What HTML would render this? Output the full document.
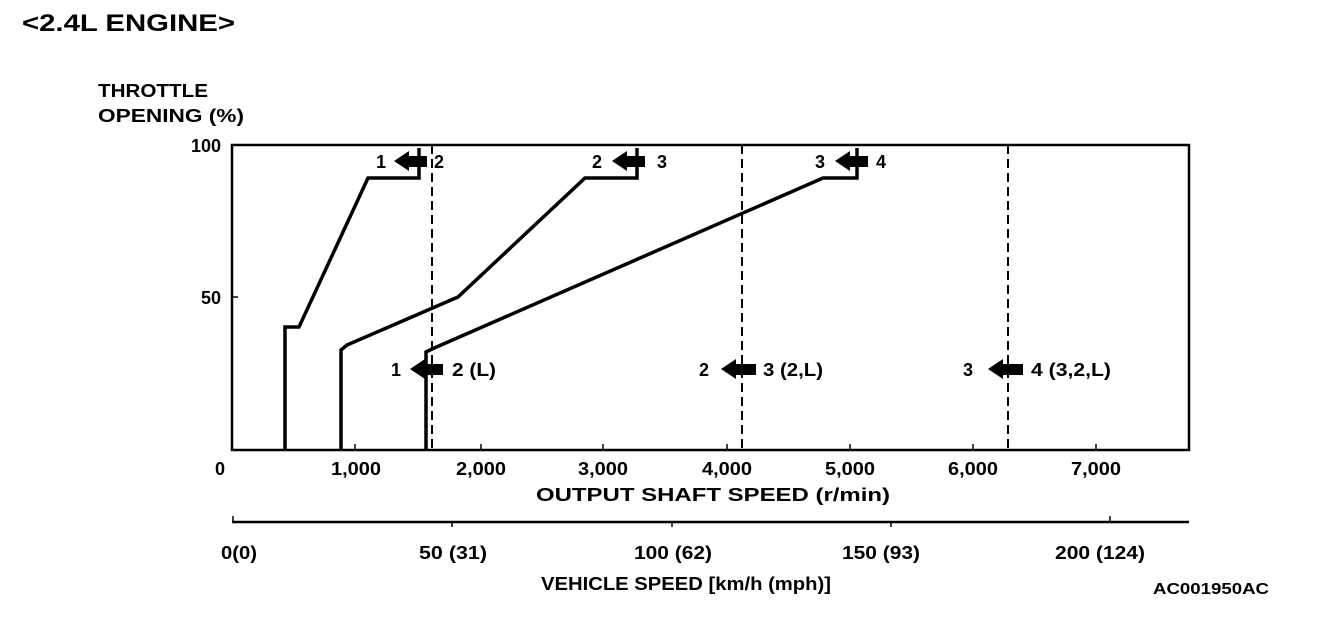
<!DOCTYPE html>
<html><head><meta charset="utf-8"><style>
html,body{margin:0;padding:0;background:#fff;}
svg{display:block;}
text{font-family:"Liberation Sans",Arial,sans-serif;font-weight:bold;fill:#000;}
</style></head><body>
<svg width="1328" height="638" viewBox="0 0 1328 638" xmlns="http://www.w3.org/2000/svg">
<text x="22" y="31" font-size="24" textLength="213" lengthAdjust="spacingAndGlyphs">&lt;2.4L ENGINE&gt;</text>
<text x="98" y="97" font-size="18" textLength="110" lengthAdjust="spacingAndGlyphs">THROTTLE</text>
<text x="98" y="122" font-size="18" textLength="146" lengthAdjust="spacingAndGlyphs">OPENING (%)</text>
<text x="221" y="152" font-size="18" text-anchor="end" textLength="30" lengthAdjust="spacingAndGlyphs">100</text>
<text x="221" y="304" font-size="18" text-anchor="end" textLength="20" lengthAdjust="spacingAndGlyphs">50</text>
<text x="225" y="475" font-size="18" text-anchor="end">0</text>
<g font-size="18" text-anchor="middle">
<text x="356" y="475" textLength="50" lengthAdjust="spacingAndGlyphs">1,000</text><text x="481" y="475" textLength="50" lengthAdjust="spacingAndGlyphs">2,000</text><text x="603" y="475" textLength="50" lengthAdjust="spacingAndGlyphs">3,000</text>
<text x="727" y="475" textLength="50" lengthAdjust="spacingAndGlyphs">4,000</text><text x="850" y="475" textLength="50" lengthAdjust="spacingAndGlyphs">5,000</text><text x="973" y="475" textLength="50" lengthAdjust="spacingAndGlyphs">6,000</text><text x="1096" y="475" textLength="50" lengthAdjust="spacingAndGlyphs">7,000</text>
</g>
<text x="713" y="501" font-size="18" text-anchor="middle" textLength="354" lengthAdjust="spacingAndGlyphs">OUTPUT SHAFT SPEED (r/min)</text>
<rect x="232" y="145" width="957" height="305" fill="none" stroke="#000" stroke-width="2.5"/>
<line x1="232" y1="297" x2="238" y2="297" stroke="#000" stroke-width="1.5"/>
<g stroke="#000" stroke-width="1.5">
<line x1="355" y1="450" x2="355" y2="444"/><line x1="481" y1="450" x2="481" y2="444"/><line x1="603" y1="450" x2="603" y2="444"/>
<line x1="727" y1="450" x2="727" y2="444"/><line x1="850" y1="450" x2="850" y2="444"/><line x1="973" y1="450" x2="973" y2="444"/><line x1="1096" y1="450" x2="1096" y2="444"/>
</g>
<g stroke="#000" stroke-width="2" stroke-dasharray="9,5">
<line x1="432" y1="145" x2="432" y2="450"/><line x1="742" y1="145" x2="742" y2="450"/><line x1="1008" y1="145" x2="1008" y2="450"/>
</g>
<g fill="none" stroke="#000" stroke-width="3.5" stroke-linejoin="miter">
<polyline points="285,450 285,327 299,327 368,178 419,178 419,148"/>
<polyline points="341,450 341,350 347,345 458,297 585,178 637,178 637,148"/>
<polyline points="426,450 426,352 432,349 823,178 857,178 857,148"/>
</g>
<g fill="#000">
<polygon points="394,161 409,151 409,156 427,156 427,167 409,167 409,171"/>
<polygon points="612,161 627,151 627,156 645,156 645,167 627,167 627,171"/>
<polygon points="835,161 850,151 850,156 868,156 868,167 850,167 850,171"/>
<polygon points="410,369 425,359 425,364 443,364 443,375 425,375 425,379"/>
<polygon points="721,369 736,359 736,364 756,364 756,375 736,375 736,379"/>
<polygon points="988,369 1003,359 1003,364 1023,364 1023,375 1003,375 1003,379"/>
</g>
<g font-size="18">
<text x="376" y="168">1</text><text x="434" y="168">2</text>
<text x="592" y="168">2</text><text x="657" y="168">3</text>
<text x="815" y="168">3</text><text x="876" y="168">4</text>
<text x="391" y="376">1</text><text x="452" y="376" textLength="44" lengthAdjust="spacingAndGlyphs">2 (L)</text>
<text x="699" y="376">2</text><text x="763" y="376" textLength="60" lengthAdjust="spacingAndGlyphs">3 (2,L)</text>
<text x="963" y="376">3</text><text x="1031" y="376" textLength="80" lengthAdjust="spacingAndGlyphs">4 (3,2,L)</text>
</g>
<line x1="232" y1="522" x2="1189" y2="522" stroke="#000" stroke-width="2.5"/>
<g stroke="#000" stroke-width="1.5">
<line x1="233" y1="522" x2="233" y2="516"/><line x1="452" y1="522" x2="452" y2="527"/><line x1="672" y1="522" x2="672" y2="527"/><line x1="891" y1="522" x2="891" y2="527"/><line x1="1110" y1="522" x2="1110" y2="516"/>
</g>
<g font-size="18" text-anchor="middle">
<text x="239" y="559" textLength="36" lengthAdjust="spacingAndGlyphs">0(0)</text><text x="453" y="559" textLength="68" lengthAdjust="spacingAndGlyphs">50 (31)</text><text x="673" y="559" textLength="78" lengthAdjust="spacingAndGlyphs">100 (62)</text>
<text x="881" y="559" textLength="78" lengthAdjust="spacingAndGlyphs">150 (93)</text><text x="1100" y="559" textLength="90" lengthAdjust="spacingAndGlyphs">200 (124)</text>
</g>
<text x="686" y="590" font-size="18" text-anchor="middle" textLength="290" lengthAdjust="spacingAndGlyphs">VEHICLE SPEED [km/h (mph)]</text>
<text x="1269" y="594" font-size="16" text-anchor="end" textLength="116" lengthAdjust="spacingAndGlyphs">AC001950AC</text>
</svg>
</body></html>
